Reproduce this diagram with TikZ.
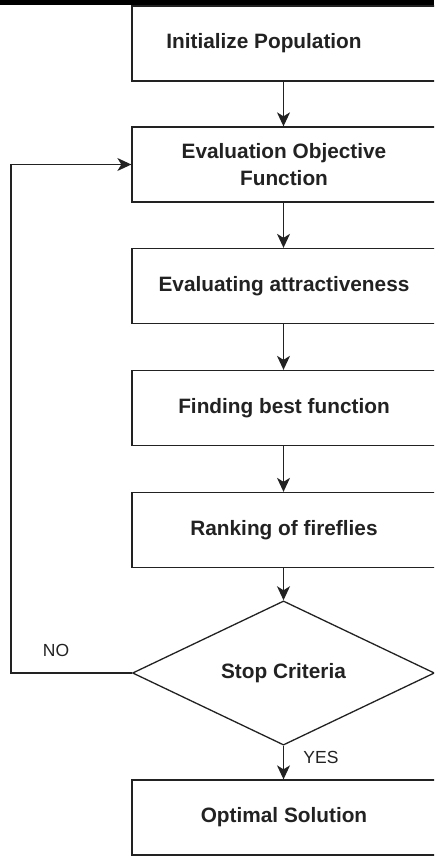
\documentclass[tikz,border=0pt]{standalone}
\usepackage{fontspec}
\setmainfont{Liberation Sans}
\usetikzlibrary{shapes.geometric,arrows.meta}
\definecolor{ink}{HTML}{222222}
\begin{document}
\begin{tikzpicture}[x=1pt,y=-1pt,
  box/.style={draw=ink,line width=1.3pt,minimum width=304pt,minimum height=75pt,inner sep=0pt,
    font=\fontsize{20.8}{27}\selectfont\bfseries,text=ink,align=center},
  decision/.style={diamond,draw=ink,line width=1.3pt,minimum width=302pt,minimum height=120pt,inner sep=0pt,
    font=\fontsize{20.8}{27}\selectfont\bfseries,text=ink},
  lbl/.style={font=\fontsize{17.5}{20}\selectfont,text=ink,inner sep=0pt},
  arr/.style={draw=ink,line width=1.3pt,-{Stealth[length=14pt,width=13pt,inset=4pt]}}]
\useasboundingbox (0,0) rectangle (434,856);
\clip (0,0) rectangle (434,856);
\fill[white] (0,0) rectangle (434,856);
\node[box] (b1) at (284,43.5) {Initialize Population\hspace*{40pt}};
\node[box] (b2) at (284,164.5) {Evaluation Objective\\Function};
\node[box] (b3) at (284,286) {Evaluating attractiveness};
\node[box] (b4) at (284,408) {Finding best function};
\node[box] (b5) at (284,530) {Ranking of fireflies};
\node[decision] (d) at (283.5,673) {Stop Criteria};
\node[box] (b6) at (284,817.5) {Optimal Solution};
\fill[black] (0,0) rectangle (434,5.5);
\coordinate (lb) at (11,673);
\coordinate (lt) at (11,164.5);
\draw[arr] (b1.south -| d.north) -- (b2.north -| d.north);
\draw[arr] (b2.south -| d.north) -- (b3.north -| d.north);
\draw[arr] (b3.south -| d.north) -- (b4.north -| d.north);
\draw[arr] (b4.south -| d.north) -- (b5.north -| d.north);
\draw[arr] (b5.south -| d.north) -- (d.north);
\draw[arr] (d.south) -- (b6.north -| d.south);
\draw[arr] (d.west) -- (lb) -- (lt) -- (b2.west);
\node[lbl] (no) at (56,650) {NO};
\node[lbl] (yes) at (321,757) {YES};
\end{tikzpicture}
\end{document}
